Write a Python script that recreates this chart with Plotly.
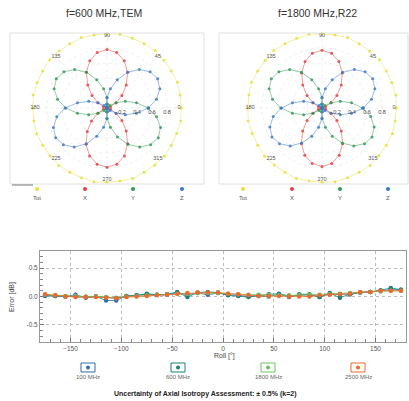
import plotly.graph_objects as go

W, H = 409, 401

# ---------------- data ----------------
phi = [0, 10, 20, 30, 40, 50, 60, 70, 80, 90, 100, 110, 120, 130, 140, 150, 160, 170,
       180, 190, 200, 210, 220, 230, 240, 250, 260, 270, 280, 290, 300, 310, 320, 330, 340, 350]

tot_600 = [0.99, 0.99, 1.0, 0.99, 0.99, 1.0, 0.99, 0.99, 1.0, 0.99, 0.99, 1.0, 0.99, 0.99, 1.0, 0.99, 0.99, 1.0,
           0.99, 0.99, 1.0, 0.99, 0.99, 1.0, 0.99, 0.99, 1.0, 0.99, 0.99, 1.0, 0.99, 0.99, 1.0, 0.99, 0.99, 1.0]
x_600 = [0.00, 0.01, 0.05, 0.14, 0.26, 0.40, 0.55, 0.67, 0.75, 0.78, 0.75, 0.67, 0.55, 0.40, 0.26, 0.14, 0.05, 0.01,
         0.00, 0.01, 0.05, 0.14, 0.27, 0.41, 0.56, 0.68, 0.76, 0.79, 0.76, 0.68, 0.55, 0.40, 0.26, 0.14, 0.05, 0.01]
y_600 = [0.55, 0.40, 0.26, 0.14, 0.05, 0.01, 0.00, 0.01, 0.05, 0.14, 0.26, 0.40, 0.55, 0.67, 0.75, 0.78, 0.75, 0.67,
         0.55, 0.40, 0.26, 0.14, 0.05, 0.01, 0.00, 0.01, 0.05, 0.14, 0.26, 0.41, 0.56, 0.68, 0.76, 0.79, 0.76, 0.67]
z_600 = [0.55, 0.67, 0.75, 0.78, 0.75, 0.67, 0.55, 0.40, 0.26, 0.14, 0.05, 0.01, 0.00, 0.01, 0.05, 0.14, 0.26, 0.40,
         0.56, 0.68, 0.76, 0.79, 0.76, 0.68, 0.55, 0.40, 0.26, 0.14, 0.05, 0.01, 0.00, 0.01, 0.05, 0.14, 0.26, 0.40]

tot_1800 = [0.99, 1.0, 0.99, 0.99, 1.0, 0.99, 0.99, 1.0, 0.99, 0.99, 1.0, 0.99, 0.99, 1.0, 0.99, 0.99, 1.0, 0.99,
            0.99, 1.0, 0.99, 0.99, 1.0, 0.99, 0.99, 1.0, 0.99, 0.99, 1.0, 0.99, 0.99, 1.0, 0.99, 0.99, 1.0, 0.99]
x_1800 = [0.00, 0.01, 0.05, 0.14, 0.26, 0.40, 0.54, 0.66, 0.74, 0.77, 0.74, 0.66, 0.54, 0.40, 0.26, 0.14, 0.05, 0.01,
          0.00, 0.01, 0.05, 0.14, 0.26, 0.40, 0.55, 0.67, 0.75, 0.78, 0.75, 0.67, 0.55, 0.40, 0.26, 0.14, 0.05, 0.01]
y_1800 = [0.54, 0.40, 0.26, 0.14, 0.05, 0.01, 0.00, 0.01, 0.05, 0.14, 0.26, 0.40, 0.55, 0.67, 0.75, 0.78, 0.75, 0.67,
          0.55, 0.40, 0.26, 0.14, 0.05, 0.01, 0.00, 0.01, 0.05, 0.14, 0.26, 0.40, 0.54, 0.66, 0.74, 0.77, 0.74, 0.66]
z_1800 = [0.55, 0.67, 0.75, 0.78, 0.75, 0.67, 0.55, 0.40, 0.26, 0.14, 0.05, 0.01, 0.00, 0.01, 0.05, 0.14, 0.26, 0.40,
          0.54, 0.66, 0.74, 0.77, 0.74, 0.66, 0.54, 0.40, 0.26, 0.14, 0.05, 0.01, 0.00, 0.01, 0.05, 0.14, 0.26, 0.40]

angle_labels = ["0", "45", "90", "135", "180", "225", "270", "315"]
angle_label_pos = [0, 45, 90, 135, 180, 225, 270, 315]

roll = [-175, -165, -155, -145, -135, -125, -115, -105, -95, -85, -75, -65, -55, -45, -35, -25, -15, -5,
        5, 15, 25, 35, 45, 55, 65, 75, 85, 95, 105, 115, 125, 135, 145, 155, 165, 175]
err_100 = [0.01, 0.01, 0.00, 0.03, -0.02, 0.00, -0.07, -0.07, 0.01, 0.02, 0.04, 0.03, 0.03, 0.07, 0.03, 0.06, 0.03, 0.06,
           0.03, 0.02, 0.00, 0.02, 0.04, 0.05, 0.01, 0.02, 0.03, -0.01, 0.05, 0.04, 0.04, 0.07, 0.08, 0.10, 0.12, 0.12]
err_600 = [0.02, 0.01, 0.00, 0.00, -0.01, 0.00, -0.02, -0.03, 0.01, 0.02, 0.05, 0.03, 0.04, 0.08, -0.01, 0.07, 0.08, 0.07,
           0.02, 0.01, -0.01, 0.01, 0.00, 0.04, -0.01, 0.04, 0.04, -0.01, 0.06, -0.02, 0.04, 0.07, 0.08, 0.11, 0.15, 0.12]
err_1800 = [0.03, 0.02, 0.01, 0.01, 0.00, 0.00, -0.01, -0.02, 0.00, 0.01, 0.02, 0.03, 0.04, 0.05, 0.05, 0.06, 0.06, 0.06,
            0.05, 0.04, 0.03, 0.03, 0.03, 0.02, 0.02, 0.02, 0.03, 0.03, 0.04, 0.05, 0.06, 0.07, 0.08, 0.09, 0.10, 0.10]
err_2500 = [0.04, 0.02, 0.00, -0.01, -0.01, -0.01, -0.02, -0.03, -0.01, 0.00, 0.01, 0.02, 0.03, 0.05, 0.06, 0.07, 0.07, 0.07,
            0.05, 0.04, 0.02, 0.01, 0.01, 0.01, 0.00, 0.00, 0.00, 0.02, 0.03, 0.04, 0.05, 0.08, 0.08, 0.10, 0.10, 0.10]

polar_titles = ["f=600 MHz,TEM", "f=1800 MHz,R22"]
polar_names = ["Tot", "X", "Y", "Z"]
polar_colors = ["#e8df3a", "#e0403c", "#2f9a55", "#3a78c8"]
freq_names = ["100 MHz", "600 MHz", "1800 MHz", "2500 MHz"]
freq_colors = ["#2e6db4", "#178078", "#68c25e", "#ee6a2c"]
bottom_title = "Uncertainty of Axial Isotropy Assessment: ± 0.5% (k=2)"

# ---------------- helpers ----------------
def px(x):
    return x / W

def py(y):
    return 1 - y / H

FONT = "Liberation Sans, Arial, sans-serif"

fig = go.Figure()

def closed(a):
    return list(a) + [a[0]]

polar_sets = [
    ("polar", [tot_600, x_600, y_600, z_600]),
    ("polar2", [tot_1800, x_1800, y_1800, z_1800]),
]
for sub, series in polar_sets:
    for name, col, r in zip(polar_names, polar_colors, series):
        fig.add_trace(go.Scatterpolar(
            r=closed(r), theta=closed(phi), mode="lines+markers", name=name,
            line=dict(color=col, width=0.6), marker=dict(color=col, size=3),
            subplot=sub, showlegend=False, cliponaxis=False, opacity=0.85))
    fig.add_trace(go.Scatterpolar(
        r=[0.96] * len(angle_labels), theta=angle_label_pos, mode="text", text=angle_labels,
        textfont=dict(size=5.5, color="#555", family=FONT), subplot=sub, showlegend=False,
        cliponaxis=False, hoverinfo="skip"))

for name, col, e in zip(freq_names, freq_colors, [err_100, err_600, err_1800, err_2500]):
    fig.add_trace(go.Scatter(
        x=roll, y=e, mode="lines+markers", name=name,
        line=dict(color=col, width=0.8), marker=dict(color=col, size=4.5),
        showlegend=False, xaxis="x", yaxis="y"))

polar_common = dict(
    bgcolor="white",
    radialaxis=dict(range=[0, 1.0], tickvals=[0.2, 0.4, 0.6, 0.8], ticktext=["0.2", "0.4", "0.6", "0.8"],
                    angle=0, side="clockwise", showline=False, ticks="",
                    tickfont=dict(size=5.5, color="#444", family=FONT),
                    gridcolor="#efefef", griddash="dot", gridwidth=0.6),
    angularaxis=dict(showticklabels=False, ticks="", showline=False,
                     tickvals=[0, 45, 90, 135, 180, 225, 270, 315],
                     gridcolor="#efefef", griddash="dot", gridwidth=0.6,
                     rotation=0, direction="counterclockwise"),
)

fig.update_layout(
    width=W, height=H, margin=dict(l=0, r=0, t=0, b=0),
    paper_bgcolor="white", plot_bgcolor="white",
    font=dict(family=FONT, color="#444"),
    polar=dict(domain=dict(x=[px(32), px(182)], y=[py(183), py(33)]), **polar_common),
    polar2=dict(domain=dict(x=[px(247), px(397)], y=[py(183), py(33)]), **polar_common),
    xaxis=dict(domain=[px(40), px(406)], range=[-180, 180], tickvals=[-150, -100, -50, 0, 50, 100, 150],
               ticks="inside", ticklen=4, tickcolor="#777",
               minor=dict(dtick=10, ticks="inside", ticklen=3, tickcolor="#888", showgrid=False),
               showgrid=True, gridcolor="#bdbdbd", griddash="dot", gridwidth=0.8,
               zeroline=False, showline=True, linecolor="#999", linewidth=1, mirror=True,
               tickfont=dict(size=6.5, color="#555")),
    yaxis=dict(domain=[py(342), py(251)], range=[-0.8, 0.8], tickvals=[-0.5, 0.0, 0.5],
               ticktext=["-0.5", "0.0", "0.5"],
               ticks="inside", ticklen=4, tickcolor="#777",
               minor=dict(dtick=0.1, ticks="inside", ticklen=3, tickcolor="#888", showgrid=False),
               showgrid=True, gridcolor="#bdbdbd", griddash="dot", gridwidth=0.8,
               zeroline=False, showline=True, linecolor="#999", linewidth=1, mirror=True,
               tickfont=dict(size=6.5, color="#555")),
)

ann = []
shapes = []
# polar titles
for t, cx in zip(polar_titles, [104, 317]):
    ann.append(dict(text=t, x=px(cx), y=py(13), xref="paper", yref="paper", showarrow=False,
                    font=dict(size=10.5, color="#333", family=FONT), xanchor="center", yanchor="middle"))
# polar panel frames
for x0, x1 in [(10, 204), (219, 408)]:
    shapes.append(dict(type="rect", xref="paper", yref="paper", x0=px(x0), x1=px(x1), y0=py(184), y1=py(33),
                       line=dict(color="#e0e0e0", width=1)))
shapes.append(dict(type="line", xref="paper", yref="paper", x0=px(12), x1=px(33), y0=py(185), y1=py(185),
                   line=dict(color="#777", width=1)))
# polar legends
for xs in [[37, 85, 133, 182], [243, 292, 340, 388]]:
    for name, col, cx in zip(polar_names, polar_colors, xs):
        shapes.append(dict(type="circle", xref="paper", yref="paper", x0=px(cx - 2), x1=px(cx + 2),
                           y0=py(191), y1=py(187), fillcolor=col, line=dict(color=col, width=0)))
        ann.append(dict(text=name, x=px(cx), y=py(198), xref="paper", yref="paper", showarrow=False,
                        font=dict(size=6, color="#555", family=FONT), xanchor="center", yanchor="middle"))
# bottom legend
for name, col, cx in zip(freq_names, freq_colors, [88, 178, 268, 358]):
    shapes.append(dict(type="rect", xref="paper", yref="paper", x0=px(cx - 7), x1=px(cx + 7),
                       y0=py(372), y1=py(363), line=dict(color=col, width=1), fillcolor="white"))
    shapes.append(dict(type="circle", xref="paper", yref="paper", x0=px(cx - 2), x1=px(cx + 2),
                       y0=py(369.5), y1=py(365.5), fillcolor=col, line=dict(color=col, width=0)))
    ann.append(dict(text=name, x=px(cx), y=py(377), xref="paper", yref="paper", showarrow=False,
                    font=dict(size=6, color="#666", family=FONT), xanchor="center", yanchor="middle"))
# axis titles
ann.append(dict(text="Roll [°]", x=px(224), y=py(356), xref="paper", yref="paper", showarrow=False,
                font=dict(size=7, color="#444", family=FONT), xanchor="center", yanchor="middle"))
ann.append(dict(text="Error [dB]", x=px(12), y=py(297), xref="paper", yref="paper", showarrow=False,
                textangle=-90, font=dict(size=7, color="#444", family=FONT), xanchor="center", yanchor="middle"))
ann.append(dict(text="<b>" + bottom_title + "</b>", x=px(205), y=py(394), xref="paper", yref="paper",
                showarrow=False, font=dict(size=7, color="#222", family=FONT), xanchor="center", yanchor="middle"))

fig.update_layout(annotations=ann, shapes=shapes)
fig.write_html("out.html", config={"displayModeBar": False},
               post_script="document.body.style.margin='0px';document.body.style.overflow='hidden';")
